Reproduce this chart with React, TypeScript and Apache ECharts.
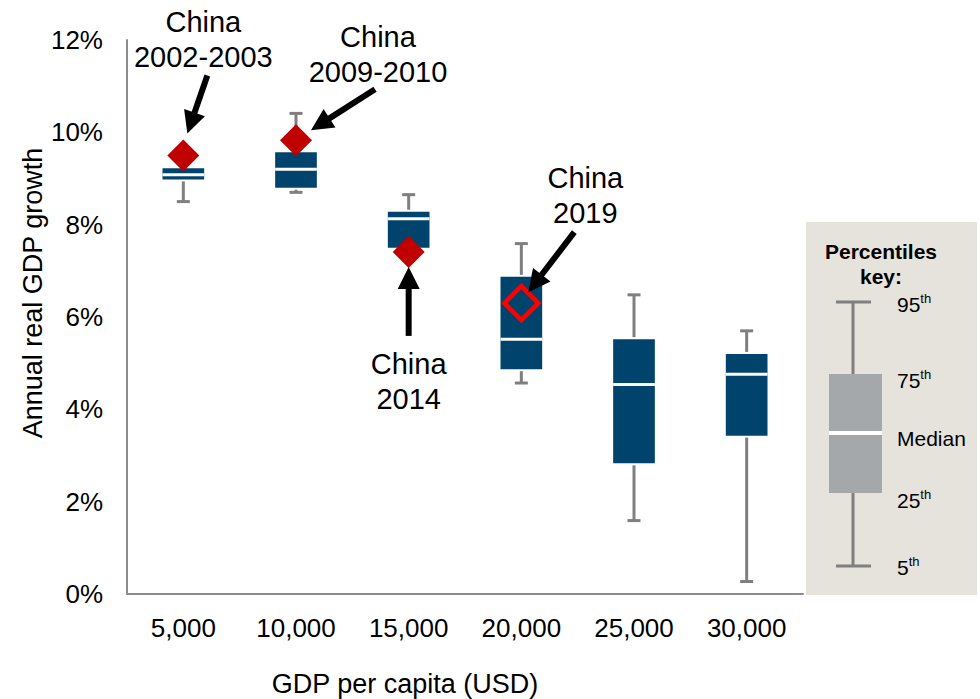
import React, { useEffect, useRef } from "react";
import * as echarts from "echarts";

// GDP per capita buckets (USD)
const categories = ["5,000", "10,000", "15,000", "20,000", "25,000", "30,000"];

// Annual real GDP growth percentiles (%) per bucket
const p5 = [8.5, 8.7, 7.45, 4.57, 1.59, 0.27];
const p25 = [8.98, 8.8, 7.5, 4.87, 2.83, 3.43];
const median = [9.08, 9.2, 8.13, 5.52, 4.54, 4.76];
const p75 = [9.22, 9.57, 8.28, 6.87, 5.52, 5.2];
const p95 = [9.35, 10.41, 8.65, 7.59, 6.48, 5.7];

// China's growth at each income level
const chinaLabels = ["China\n2002-2003", "China\n2009-2010", "China\n2014", "China\n2019"];
const chinaCategory = [0, 1, 2, 3];
const chinaGrowth = [9.5, 9.83, 7.41, 6.3];

const yTicks = { min: 0, max: 12, interval: 2 };

const FONT = "'Liberation Sans', Arial, sans-serif";
const BOX_COLOR = "#00446E";
const WHISKER_COLOR = "#7F7F7F";

// label offset and arrow (start, tip) relative to each China marker, in px
const annotationLayout = [
  { text: [20, -116], start: [24, -80], tip: [4, -22] },
  { text: [82, -86], start: [79, -51], tip: [15, -10] },
  { text: [0, 130], start: [0, 84], tip: [0, 15] },
  { text: [64, -108], start: [53, -71], tip: [7, -11] },
];

function arrow(sx: number, sy: number, tx: number, ty: number) {
  const dx = tx - sx;
  const dy = ty - sy;
  const len = Math.sqrt(dx * dx + dy * dy);
  const ux = dx / len;
  const uy = dy / len;
  const headLen = 22;
  const headHalf = 11;
  const bx = tx - ux * headLen;
  const by = ty - uy * headLen;
  const nx = -uy;
  const ny = ux;
  return [
    {
      type: "line",
      z: 100,
      shape: { x1: sx, y1: sy, x2: bx + ux * 2, y2: by + uy * 2 },
      style: { stroke: "#000", lineWidth: 6 },
    },
    {
      type: "polygon",
      z: 100,
      shape: {
        points: [
          [tx, ty],
          [bx + nx * headHalf, by + ny * headHalf],
          [bx - nx * headHalf, by - ny * headHalf],
        ],
      },
      style: { fill: "#000" },
    },
  ];
}

function keyLabel(text: string, y: number) {
  const parts = text.match(/^(\d+)(th)$/);
  const content = parts ? `{n|${parts[1]}}{s|${parts[2]}}` : `{n|${text}}`;
  return {
    type: "text",
    z: 60,
    x: 897,
    y,
    style: {
      text: content,
      align: "left",
      verticalAlign: "middle",
      rich: {
        n: { fontSize: 21, fontFamily: FONT, fill: "#000", lineHeight: 24 },
        s: { fontSize: 13, fontFamily: FONT, fill: "#000", verticalAlign: "top", lineHeight: 24 },
      },
    },
  };
}

function percentileKey() {
  const cx = 853;
  return [
    { type: "rect", z: 50, shape: { x: 806, y: 222, width: 171, height: 373 }, style: { fill: "#E6E3DC" } },
    {
      type: "text",
      z: 60,
      x: 881,
      y: 264,
      style: {
        text: "Percentiles\nkey:",
        align: "center",
        verticalAlign: "middle",
        fontSize: 21,
        fontWeight: "bold",
        fontFamily: FONT,
        lineHeight: 25,
        fill: "#000",
      },
    },
    { type: "line", z: 55, shape: { x1: cx, y1: 302, x2: cx, y2: 566 }, style: { stroke: WHISKER_COLOR, lineWidth: 3 } },
    { type: "line", z: 55, shape: { x1: 836, y1: 302, x2: 871, y2: 302 }, style: { stroke: WHISKER_COLOR, lineWidth: 3 } },
    { type: "line", z: 55, shape: { x1: 836, y1: 566, x2: 871, y2: 566 }, style: { stroke: WHISKER_COLOR, lineWidth: 3 } },
    { type: "rect", z: 56, shape: { x: 829, y: 374, width: 53, height: 119 }, style: { fill: "#A5A8AA" } },
    { type: "line", z: 57, shape: { x1: 829, y1: 433, x2: 882, y2: 433 }, style: { stroke: "#FFFFFF", lineWidth: 4 } },
    keyLabel("95th", 304),
    keyLabel("75th", 380),
    keyLabel("Median", 438),
    keyLabel("25th", 500),
    keyLabel("5th", 567),
  ];
}

export default function App() {
  const ref = useRef<HTMLDivElement>(null);

  useEffect(() => {
    if (!ref.current) return;
    const chart = echarts.init(ref.current, null, { renderer: "svg" });

    const boxData = categories.map((_, i) => [i, p5[i], p25[i], median[i], p75[i], p95[i]]);
    const filled = chinaCategory.slice(0, 3).map((c, i) => [c, chinaGrowth[i]]);
    const hollow = [[chinaCategory[3], chinaGrowth[3]]];

    chart.setOption({
      animation: false,
      backgroundColor: "#FFFFFF",
      grid: { left: 127, right: 177, top: 40, bottom: 105, containLabel: false },
      xAxis: {
        type: "category",
        data: categories,
        axisLine: { lineStyle: { color: "#8C8C8C", width: 2 } },
        axisTick: { show: false },
        axisLabel: { fontSize: 26, fontFamily: FONT, color: "#000", margin: 21 },
        splitLine: { show: false },
      },
      yAxis: {
        type: "value",
        min: yTicks.min,
        max: yTicks.max,
        interval: yTicks.interval,
        axisLine: { show: true, lineStyle: { color: "#8C8C8C", width: 2 } },
        axisTick: { show: false },
        splitLine: { show: false },
        axisLabel: { formatter: "{value}%", fontSize: 26, fontFamily: FONT, color: "#000", margin: 24 },
      },
      series: [
        {
          type: "custom",
          z: 2,
          data: boxData,
          encode: { x: 0, y: [1, 2, 3, 4, 5] },
          renderItem: (params: any, api: any) => {
            const i = api.value(0);
            const band = api.size([1, 0])[0];
            const w = band * 0.37;
            const cap = 13;
            const [x, y5] = api.coord([i, api.value(1)]);
            const y25 = api.coord([i, api.value(2)])[1];
            const ymed = api.coord([i, api.value(3)])[1];
            const y75 = api.coord([i, api.value(4)])[1];
            const y95 = api.coord([i, api.value(5)])[1];
            const ws = { stroke: WHISKER_COLOR, lineWidth: 3 };
            return {
              type: "group",
              children: [
                { type: "line", shape: { x1: x, y1: y95, x2: x, y2: y75 - 2 }, style: ws },
                { type: "line", shape: { x1: x - cap / 2, y1: y95, x2: x + cap / 2, y2: y95 }, style: ws },
                { type: "line", shape: { x1: x, y1: y25 + 2, x2: x, y2: y5 }, style: ws },
                { type: "line", shape: { x1: x - cap / 2, y1: y5, x2: x + cap / 2, y2: y5 }, style: ws },
                {
                  type: "rect",
                  shape: { x: x - w / 2, y: y75, width: w, height: y25 - y75 },
                  style: { fill: BOX_COLOR },
                },
                {
                  type: "line",
                  shape: { x1: x - w / 2, y1: ymed, x2: x + w / 2, y2: ymed },
                  style: { stroke: "#FFFFFF", lineWidth: 3 },
                },
              ],
            };
          },
        },
        {
          type: "scatter",
          z: 5,
          data: filled,
          symbol: "diamond",
          symbolSize: 32,
          itemStyle: { color: "#C00000", opacity: 1 },
        },
        {
          type: "scatter",
          z: 5,
          data: hollow,
          symbol: "diamond",
          symbolSize: 34,
          itemStyle: { color: "rgba(0,0,0,0)", borderColor: "#FF0000", borderWidth: 4.5, opacity: 1 },
        },
      ],
    });

    const annotations: any[] = [];
    chinaCategory.forEach((c, i) => {
      const [px, py] = chart.convertToPixel({ gridIndex: 0 }, [c, chinaGrowth[i]]) as number[];
      const lay = annotationLayout[i];
      annotations.push({
        type: "text",
        z: 100,
        x: px + lay.text[0],
        y: py + lay.text[1],
        style: {
          text: chinaLabels[i],
          align: "center",
          verticalAlign: "middle",
          fontSize: 29,
          fontFamily: FONT,
          lineHeight: 35,
          fill: "#000",
        },
      });
      annotations.push(...arrow(px + lay.start[0], py + lay.start[1], px + lay.tip[0], py + lay.tip[1]));
    });

    chart.setOption({
      graphic: [
        {
          type: "text",
          x: 33,
          y: 293,
          rotation: Math.PI / 2,
          style: {
            text: "Annual real GDP growth",
            align: "center",
            verticalAlign: "middle",
            fontSize: 27,
            fontFamily: FONT,
            fill: "#000",
          },
        },
        {
          type: "text",
          x: 405,
          y: 684,
          style: {
            text: "GDP per capita (USD)",
            align: "center",
            verticalAlign: "middle",
            fontSize: 27,
            fontFamily: FONT,
            fill: "#000",
          },
        },
        ...percentileKey(),
        ...annotations,
      ],
    });

    return () => chart.dispose();
  }, []);

  return (
    <div
      ref={ref}
      style={{ position: "fixed", left: 0, top: 0, width: 980, height: 699, background: "#fff" }}
    />
  );
}
